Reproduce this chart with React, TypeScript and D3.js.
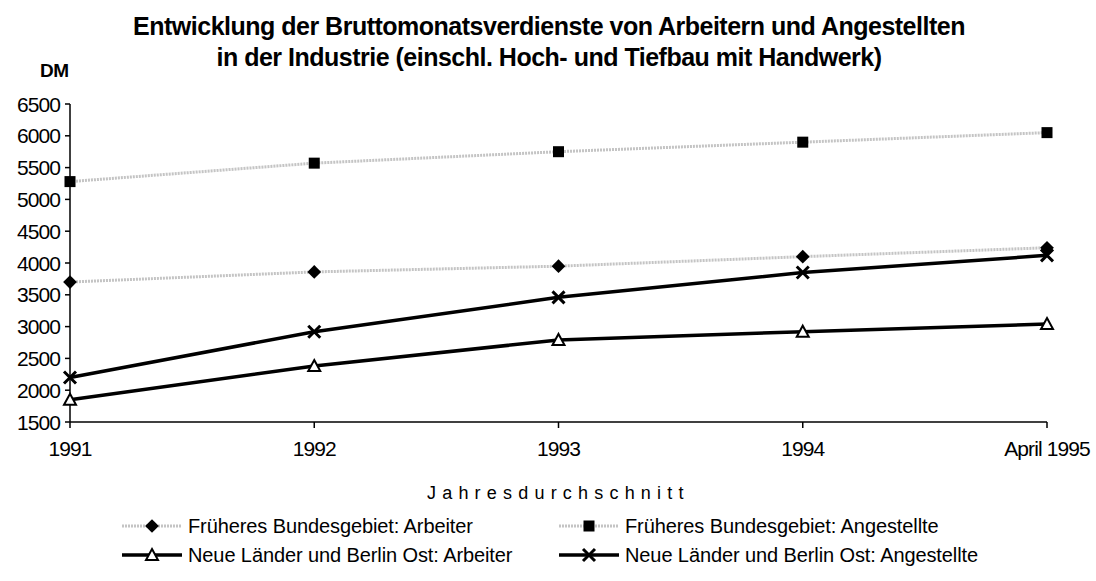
import React from "react";
import * as d3 from "d3";

// Bruttomonatsverdienste in DM
const years = ["1991", "1992", "1993", "1994", "April 1995"];
const fbArbeiter = [3700, 3860, 3950, 4100, 4240];
const fbAngestellte = [5280, 5570, 5750, 5900, 6050];
const nlArbeiter = [1850, 2380, 2790, 2920, 3040];
const nlAngestellte = [2200, 2920, 3460, 3850, 4120];
const yTicks = [1500, 2000, 2500, 3000, 3500, 4000, 4500, 5000, 5500, 6000, 6500];

const titleLines = [
  "Entwicklung der Bruttomonatsverdienste von Arbeitern und Angestellten",
  "in der Industrie (einschl. Hoch- und Tiefbau mit Handwerk)",
];

type Marker = "diamond" | "square" | "triangle" | "cross";
interface Series {
  name: string;
  values: number[];
  color: string;
  width: number;
  marker: Marker;
}

const series: Series[] = [
  { name: "Früheres Bundesgebiet: Arbeiter", values: fbArbeiter, color: "#c4c4c4", width: 3, marker: "diamond" },
  { name: "Früheres Bundesgebiet: Angestellte", values: fbAngestellte, color: "#c4c4c4", width: 3, marker: "square" },
  { name: "Neue Länder und Berlin Ost: Arbeiter", values: nlArbeiter, color: "#000", width: 3.5, marker: "triangle" },
  { name: "Neue Länder und Berlin Ost: Angestellte", values: nlAngestellte, color: "#000", width: 3.5, marker: "cross" },
];

const W = 1096,
  H = 581;
const margin = { left: 70, right: 49, top: 104, bottom: 159 };
const font = "'Liberation Sans', Arial, sans-serif";

const x = d3
  .scalePoint<string>()
  .domain(years)
  .range([margin.left, W - margin.right]);
const y = d3
  .scaleLinear()
  .domain([1500, 6500])
  .range([H - margin.bottom, margin.top]);

const drawMarker = (m: Marker, cx: number, cy: number, key: string) => {
  if (m === "diamond")
    return <path key={key} d={d3.symbol(d3.symbolDiamond2, 120)()!} transform={`translate(${cx},${cy})`} fill="#000" />;
  if (m === "square")
    return <rect key={key} x={cx - 5.5} y={cy - 5.5} width={11} height={11} fill="#000" />;
  if (m === "triangle")
    return (
      <path
        key={key}
        d={`M${cx},${cy - 6}L${cx + 6},${cy + 5}L${cx - 6},${cy + 5}Z`}
        fill="#fff"
        stroke="#000"
        strokeWidth={2}
      />
    );
  return (
    <path
      key={key}
      d={`M${cx - 6},${cy - 6}L${cx + 6},${cy + 6}M${cx + 6},${cy - 6}L${cx - 6},${cy + 6}`}
      stroke="#000"
      strokeWidth={3}
    />
  );
};

export default function App() {
  const line = d3
    .line<number>()
    .x((_, i) => x(years[i])!)
    .y((d) => y(d));
  const x0 = margin.left,
    x1 = W - margin.right,
    yb = H - margin.bottom;

  // legend: two columns, two rows
  const legendPos = [
    { lx: 122, ly: 533 },
    { lx: 559, ly: 533 },
    { lx: 122, ly: 562 },
    { lx: 559, ly: 562 },
  ];

  return (
    <svg width={W} height={H} style={{ position: "absolute", left: 0, top: 0, background: "#fff" }} fontFamily={font}>
      <rect width={W} height={H} fill="#fff" />
      {titleLines.map((t, i) => (
        <text
          key={t}
          x={549}
          y={35 + i * 31}
          textAnchor="middle"
          fontSize={25}
          fontWeight="bold"
          letterSpacing={-0.5}
        >
          {t}
        </text>
      ))}
      <text x={40} y={77} fontSize={19} fontWeight="bold" letterSpacing={-0.5}>
        DM
      </text>

      {/* series */}
      {series.map((s) => (
        <path
          key={s.name}
          d={line(s.values)!}
          fill="none"
          stroke={s.color}
          strokeWidth={s.width}
          strokeDasharray={s.color === "#000" ? undefined : "2 1"}
        />
      ))}

      {/* axes */}
      <line x1={x0} x2={x0} y1={margin.top} y2={yb} stroke="#000" strokeWidth={1.5} />
      <line x1={x0} x2={x1} y1={yb} y2={yb} stroke="#000" strokeWidth={1.5} />
      {yTicks.map((t) => (
        <g key={t}>
          <line x1={x0 - 5} x2={x0} y1={y(t)} y2={y(t)} stroke="#000" strokeWidth={1.5} />
          <text x={x0 - 10} y={y(t) + 7.5} textAnchor="end" fontSize={21} letterSpacing={-0.9}>
            {t}
          </text>
        </g>
      ))}
      {years.map((yr) => (
        <g key={yr}>
          <line x1={x(yr)} x2={x(yr)} y1={yb} y2={yb + 6} stroke="#000" strokeWidth={1.5} />
          <text x={x(yr)} y={yb + 34} textAnchor="middle" fontSize={21} letterSpacing={-0.9}>
            {yr}
          </text>
        </g>
      ))}

      {series.map((s) => s.values.map((v, i) => drawMarker(s.marker, x(years[i])!, y(v), s.name + i)))}

      <text x={427} y={499} fontSize={18} letterSpacing={6.2}>
        Jahresdurchschnitt
      </text>

      {/* legend */}
      {series.map((s, i) => {
        const { lx, ly } = legendPos[i];
        const len = 60;
        return (
          <g key={s.name}>
            <line
              x1={lx}
              x2={lx + len}
              y1={ly - 7}
              y2={ly - 7}
              stroke={s.color}
              strokeWidth={s.width}
              strokeDasharray={s.color === "#000" ? undefined : "2 1"}
            />
            {drawMarker(s.marker, lx + len / 2, ly - 7, "lg" + i)}
            <text x={lx + len + 6} y={ly} fontSize={20} letterSpacing={-0.1}>
              {s.name}
            </text>
          </g>
        );
      })}
    </svg>
  );
}
